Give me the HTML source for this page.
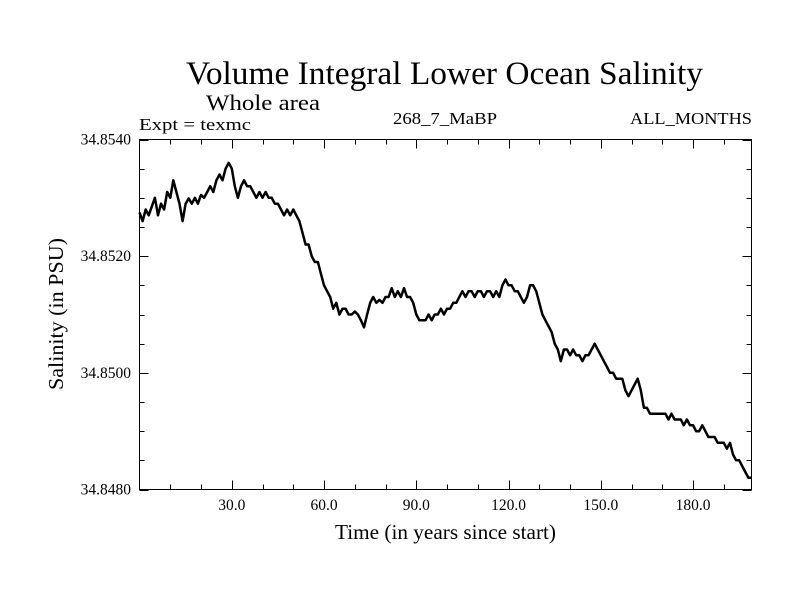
<!DOCTYPE html>
<html><head><meta charset="utf-8"><style>
body{margin:0;background:#fff;}
svg text{font-family:"Liberation Serif",serif;fill:#000;}
</style></head><body>
<svg id="chart" width="800" height="600" xmlns="http://www.w3.org/2000/svg">
<rect width="800" height="600" fill="#fff"/>
<text x="186" y="84" font-size="33" textLength="517" lengthAdjust="spacingAndGlyphs">Volume Integral Lower Ocean Salinity</text>
<text x="206" y="110" font-size="22" textLength="114" lengthAdjust="spacingAndGlyphs">Whole area</text>
<text x="139" y="130" font-size="17" textLength="112" lengthAdjust="spacingAndGlyphs">Expt = texmc</text>
<text x="393" y="124" font-size="17" textLength="104" lengthAdjust="spacingAndGlyphs">268_7_MaBP</text>
<text x="630" y="124" font-size="17" textLength="122" lengthAdjust="spacingAndGlyphs">ALL_MONTHS</text>
<text x="335" y="539" font-size="21" textLength="221" lengthAdjust="spacingAndGlyphs">Time (in years since start)</text>
<text transform="translate(63,390) rotate(-90)" font-size="21" textLength="152" lengthAdjust="spacingAndGlyphs">Salinity (in PSU)</text>
<g id="axes"></g>
<path id="series" fill="none" stroke="#000" stroke-width="2.5" stroke-linejoin="round"/>
<rect x="139.5" y="139.5" width="612" height="350" fill="none" stroke="#000" stroke-width="1"/>
</svg>
<script>
const years=[];for(let i=0;i<=199;i++)years.push(i);
const salinity=[34.85275,34.8526,34.8528,34.8527,34.85285,34.8530,34.8527,34.8529,34.8528,34.8531,34.8530,34.8533,34.8531,34.8529,34.8526,34.8529,34.85299,34.8529,34.8530,34.8529,34.85305,34.8530,34.8531,34.8532,34.8531,34.8533,34.8534,34.8533,34.8535,34.8536,34.8535,34.8532,34.8530,34.8532,34.8533,34.8532,34.8532,34.8531,34.8530,34.8531,34.8530,34.8531,34.8530,34.8530,34.8529,34.8529,34.8528,34.8527,34.8528,34.8527,34.8528,34.8527,34.8526,34.8524,34.8522,34.8522,34.8520,34.8519,34.8519,34.8517,34.8515,34.8514,34.8513,34.8511,34.8512,34.8510,34.8511,34.8511,34.8510,34.8510,34.85105,34.8510,34.8509,34.85078,34.8510,34.8512,34.8513,34.8512,34.85125,34.8512,34.8513,34.8513,34.85145,34.8513,34.8514,34.8513,34.85145,34.8513,34.8513,34.8512,34.8510,34.8509,34.8509,34.8509,34.8510,34.8509,34.8510,34.8510,34.8511,34.8510,34.8511,34.8511,34.8512,34.8512,34.8513,34.8514,34.8513,34.8514,34.8514,34.8513,34.8514,34.8514,34.8513,34.8514,34.8514,34.8513,34.8514,34.8513,34.8515,34.8516,34.8515,34.8515,34.8514,34.8514,34.8513,34.8512,34.8513,34.8515,34.8515,34.8514,34.8512,34.8510,34.8509,34.8508,34.8507,34.8505,34.8504,34.8502,34.8504,34.8504,34.8503,34.8504,34.8503,34.8503,34.8502,34.8503,34.8503,34.8504,34.8505,34.8504,34.8503,34.8502,34.8501,34.8500,34.8500,34.8499,34.8499,34.8499,34.8497,34.8496,34.8497,34.8498,34.8499,34.8497,34.8494,34.8494,34.8493,34.8493,34.8493,34.8493,34.8493,34.8493,34.8492,34.8493,34.8492,34.8492,34.8492,34.8491,34.8492,34.8491,34.8491,34.8490,34.8490,34.8491,34.8490,34.8489,34.8489,34.8489,34.8488,34.8488,34.8488,34.8487,34.8488,34.8486,34.8485,34.8485,34.8484,34.8483,34.8482,34.8482];
const xTickLabels=["30.0","60.0","90.0","120.0","150.0","180.0"];
const yTickLabels=["34.8480","34.8500","34.8520","34.8540"];
const X0=139.5,X1=751.5,Y0=489.5,Y1=139.5,XMIN=0,XMAX=199,YMIN=34.848,YMAX=34.854;
function sx(v){return X0+(v-XMIN)/(XMAX-XMIN)*(X1-X0);}
function sy(v){return Y0-(v-YMIN)/(YMAX-YMIN)*(Y0-Y1);}
const NS="http://www.w3.org/2000/svg",g=document.getElementById('axes');
function line(x1,y1,x2,y2){const l=document.createElementNS(NS,'line');l.setAttribute('x1',x1);l.setAttribute('y1',y1);l.setAttribute('x2',x2);l.setAttribute('y2',y2);l.setAttribute('stroke','#000');


g.appendChild(l);}
for(let t=10;t<XMAX;t+=10){const x=Math.round(sx(t))+0.5,len=(t%30===0)?9:5;line(x,Y0,x,Y0-len);line(x,Y1,x,Y1+len);}
for(let k=0;k<=12;k++){const v=YMIN+k*0.0005,y=Math.round(sy(v))+0.5,len=(k%4===0)?9:5;line(X0,y,X0+len,y);line(X1,y,X1-len,y);}
xTickLabels.forEach(s=>{const t=document.createElementNS(NS,'text');t.setAttribute('x',sx(parseFloat(s)));t.setAttribute('y',510);t.setAttribute('font-size','15.5');t.setAttribute('text-anchor','middle');t.textContent=s;


g.appendChild(t);});
yTickLabels.forEach(s=>{const t=document.createElementNS(NS,'text');t.setAttribute('x',131);t.setAttribute('y',sy(parseFloat(s))+5);t.setAttribute('font-size','15.5');t.setAttribute('text-anchor','end');t.textContent=s;


g.appendChild(t);});
document.getElementById('series').setAttribute('d',years.map((yr,i)=>(i?'L':'M')+sx(yr).toFixed(1)+','+sy(salinity[i]).toFixed(1)).join(''));
</script>
</body></html>
